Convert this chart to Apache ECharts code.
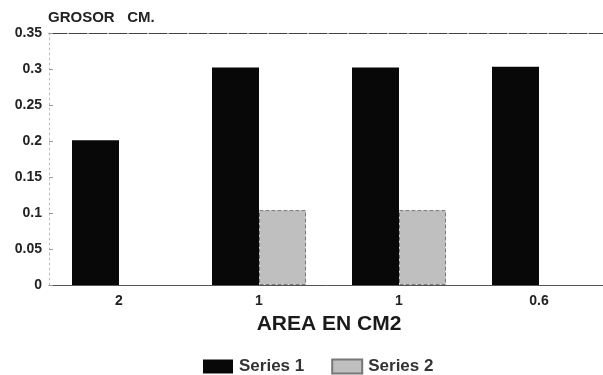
<!DOCTYPE html>
<html><head><meta charset="utf-8">
<script src="https://cdn.jsdelivr.net/npm/echarts@6/dist/echarts.min.js"></script>
<style>html,body{margin:0;padding:0;background:#fff}#c{width:603px;height:375px}</style>
</head><body><div id="c"></div>
<script>
var categories = ['2', '1', '1', '0.6'];
var series1 = [0.201, 0.302, 0.302, 0.303];
var series2 = [null, 0.104, 0.104, null];
var yTicks = {min: 0, max: 0.35, interval: 0.05};

var chart = echarts.init(document.getElementById('c'));
var font = 'Liberation Sans, Arial, sans-serif';
chart.setOption({
  animation: false,
  textStyle: {fontFamily: font},
  grid: {left: 49, width: 560, top: 33, height: 252, outerBoundsMode: 'none', containLabel: false},
  legend: {
    data: ['Series 1', 'Series 2'], top: 353, left: 198,
    icon: 'rect', itemWidth: 30, itemHeight: 14, itemGap: 27,
    textStyle: {fontFamily: font, fontSize: 17, color: '#333', fontWeight: 'bold', padding: [0, 0, 0, 1]}
  },
  xAxis: [{
    type: 'category', data: categories,
    axisLine: {lineStyle: {color: '#555', width: 1}},
    axisTick: {show: false},
    axisLabel: {color: '#222', fontSize: 14, fontWeight: 'bold', margin: 9},
    name: 'AREA EN CM2', nameLocation: 'middle', nameGap: 29,
    nameTextStyle: {fontFamily: font, fontSize: 21, color: '#1a1a1a', fontWeight: 'bold'}
  }, {
    type: 'category', data: categories, position: 'top',
    axisLine: {lineStyle: {color: '#444', width: 1.2, type: [18, 2]}},
    axisTick: {show: false}, axisLabel: {show: false}
  }],
  yAxis: {
    type: 'value', min: yTicks.min, max: yTicks.max, interval: yTicks.interval,
    name: 'GROSOR   CM.', nameLocation: 'end', nameGap: 8,
    nameTextStyle: {fontFamily: font, fontSize: 15, color: '#222', fontWeight: 'bold', align: 'left', padding: [0, 0, 0, -1]},
    axisLine: {show: true, lineStyle: {color: '#bbb', type: [2, 3]}},
    axisTick: {show: true, inside: true, length: 4, lineStyle: {color: '#999'}},
    splitLine: {show: false},
    axisLabel: {color: '#222', fontSize: 14, fontWeight: 'bold', margin: 7,
      formatter: function (v) { return String(parseFloat(v.toFixed(2))); }}
  },
  series: [{
    name: 'Series 1', type: 'bar', data: series1, barWidth: 47, barGap: '0%',
    itemStyle: {color: '#080808'}
  }, {
    name: 'Series 2', type: 'bar', data: series2, barWidth: 47,
    itemStyle: {color: '#bfbfbf', borderColor: '#777', borderWidth: 1, borderType: 'dashed'}
  }]
});
</script></body></html>
